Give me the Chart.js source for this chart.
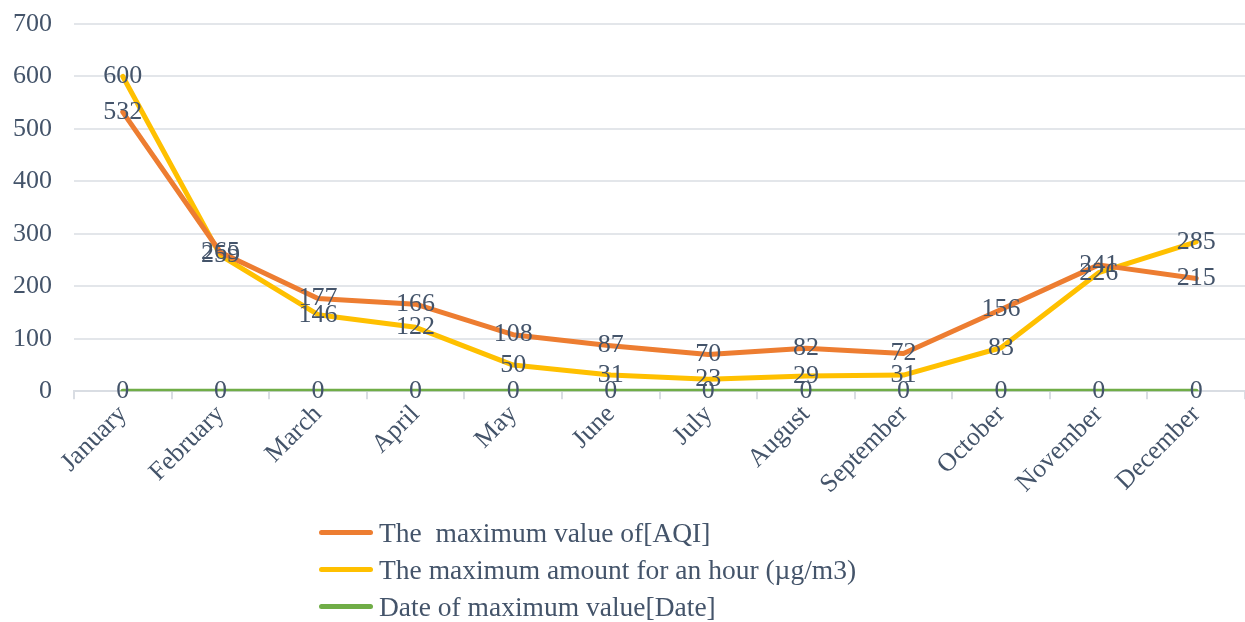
<!DOCTYPE html>
<html>
<head>
<meta charset="utf-8">
<script src="https://cdn.jsdelivr.net/npm/chart.js@4"></script>
<style>
  html, body { margin: 0; padding: 0; background: #fff; }
  #wrap { position: relative; width: 1245px; height: 622px; }
  #legend { position: absolute; left: 319px; top: 514px; font-family: "Liberation Serif", serif; font-size: 27.5px; color: #44546a; }
  #legend div { height: 37px; line-height: 37px; display: flex; align-items: center; }
  #legend span.sw { display: inline-block; width: 54px; height: 5px; border-radius: 3px; margin-right: 6px; }
</style>
</head>
<body>
<div id="wrap">
  <canvas id="lineChart" width="1245" height="622"></canvas>
  <div id="legend"></div>
</div>
<script>
const months = ["January", "February", "March", "April", "May", "June", "July", "August", "September", "October", "November", "December"];
const aqiMax = [532, 265, 177, 166, 108, 87, 70, 82, 72, 156, 241, 215];
const hourMax = [600, 259, 146, 122, 50, 31, 23, 29, 31, 83, 226, 285];
const dateMax = [0, 0, 0, 0, 0, 0, 0, 0, 0, 0, 0, 0];
const seriesNames = ["The  maximum value of[AQI]", "The maximum amount for an hour (\u00b5g/m3)", "Date of maximum value[Date]"];
const textColor = "#44546a";

// draws the value on top of each point, centred
const valueLabels = {
  id: "valueLabels",
  afterDatasetsDraw(chart) {
    const ctx = chart.ctx;
    ctx.save();
    ctx.font = "26px 'Liberation Serif'";
    ctx.fillStyle = textColor;
    ctx.textAlign = "center";
    ctx.textBaseline = "middle";
    chart.data.datasets.forEach((ds, i) => {
      chart.getDatasetMeta(i).data.forEach((pt, j) => {
        ctx.fillText(ds.data[j], pt.x, pt.y);
      });
    });
    ctx.restore();
  }
};

const chart = new Chart(document.getElementById("lineChart"), {
  type: "line",
  data: {
    labels: months,
    datasets: [
      { label: seriesNames[0], data: aqiMax, borderColor: "#ED7D31", backgroundColor: "#ED7D31" },
      { label: seriesNames[1], data: hourMax, borderColor: "#FFC000", backgroundColor: "#FFC000" },
      { label: seriesNames[2], data: dateMax, borderColor: "#70AD47", backgroundColor: "#70AD47" }
    ]
  },
  options: {
    responsive: false,
    animation: false,
    layout: { padding: { top: 0, right: 0, bottom: 122, left: 0 } },
    elements: {
      line: { borderWidth: 5, tension: 0, borderJoinStyle: "round", borderCapStyle: "round" },
      point: { radius: 0 }
    },
    plugins: {
      legend: { display: false },
      tooltip: { enabled: false }
    },
    scales: {
      x: {
        offset: true,
        afterFit: (s) => { s.paddingLeft = 0; },
        grid: { offset: true, drawOnChartArea: false, tickLength: 8, color: "#d9dde3", lineWidth: 2 },
        border: { color: "#d9dde3", width: 2 },
        ticks: { color: textColor, font: { family: "Liberation Serif", size: 26 }, maxRotation: 45, minRotation: 45, padding: 0 }
      },
      y: {
        min: 0,
        max: 700,
        afterFit: (s) => { s.width = 74; s.paddingTop = 24; s.paddingBottom = 0; },
        ticks: { stepSize: 100, color: textColor, font: { family: "Liberation Serif", size: 26 }, padding: 22 },
        grid: { color: "#e3e6ea", lineWidth: 2, drawTicks: false },
        border: { display: false }
      }
    }
  },
  plugins: [valueLabels]
});

const legend = document.getElementById("legend");
chart.data.datasets.forEach(ds => {
  const row = document.createElement("div");
  row.innerHTML = '<span class="sw" style="background:' + ds.borderColor + '"></span>' + ds.label.replace(/ /g, "&nbsp;");
  legend.appendChild(row);
});
</script>
</body>
</html>
